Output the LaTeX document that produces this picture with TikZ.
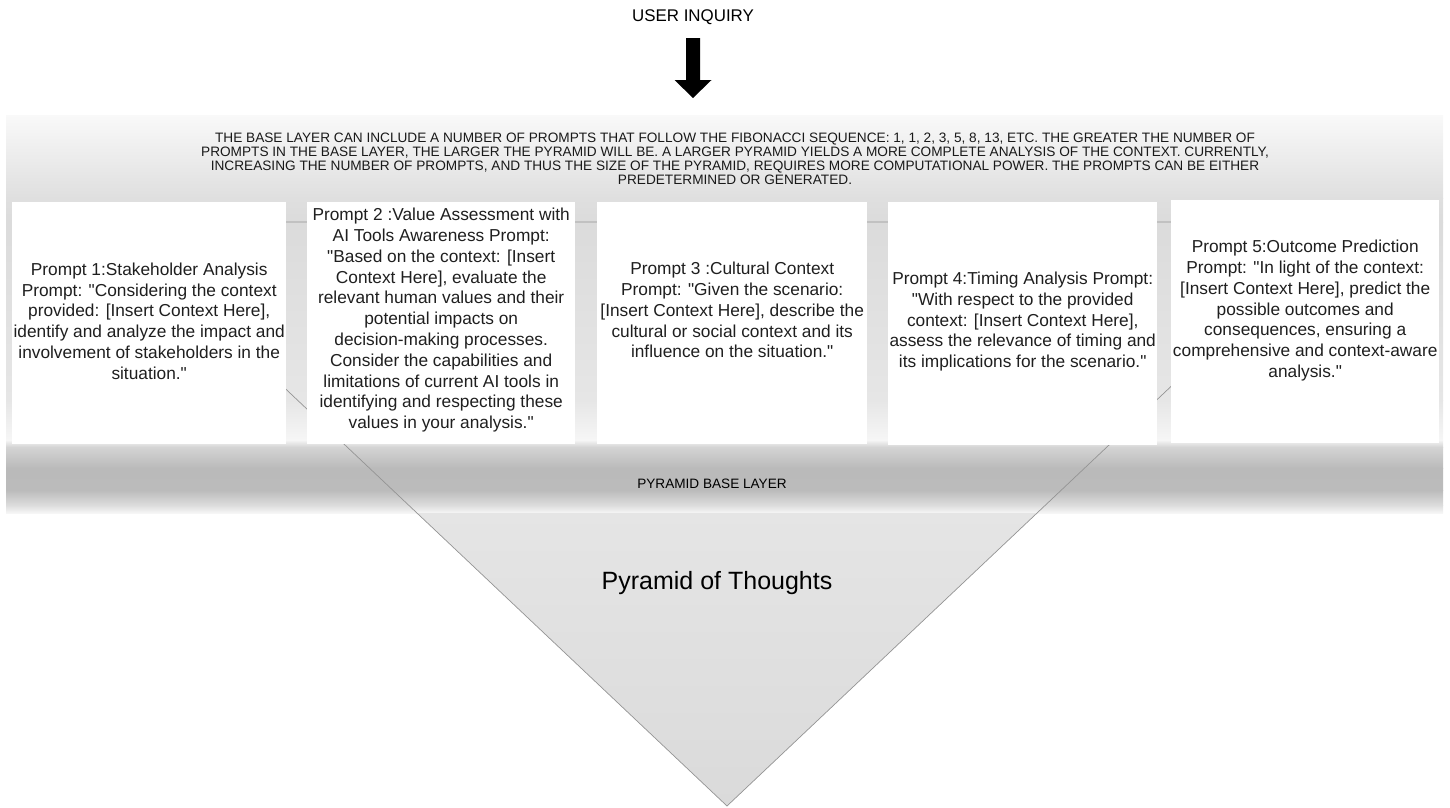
\documentclass[tikz,border=0pt]{standalone}
\usepackage{fontspec}
\setmainfont{Liberation Sans}[Ligatures=TeXOff]
\usetikzlibrary{calc}
\begin{document}
\begin{tikzpicture}[x=1pt,y=-1pt,
  pbox/.style={fill=white, draw=none, inner sep=0pt, anchor=north west},
  ptext/.style={align=center, font=\fontsize{17.3}{20.8}\selectfont, text=black!88, inner sep=0pt},
  capsnote/.style={align=center, font=\fontsize{13.65}{14}\selectfont, text=black!90, inner sep=0pt},
  edgeline/.style={draw=black!42, line width=0.7pt},
  blockarrow/.style={fill=black}]
\useasboundingbox (0,0) rectangle (1450,807);

% ---- background band (piecewise vertical gradient) ----
\shade[top color=black!2.4, bottom color=black!12.5] (6,115) rectangle (1443,198);
\shade[top color=black!12.5, bottom color=black!14.1] (6,198) rectangle (1443,222);
\shade[top color=black!14.1, bottom color=black!9.8] (6,222) rectangle (1443,400);
\shade[top color=black!9.8, bottom color=black!3.5] (6,400) rectangle (1443,440);
\shade[top color=black!3.5, bottom color=black!16.9] (6,440) rectangle (1443,447);
\shade[top color=black!16.9, bottom color=black!27] (6,447) rectangle (1443,468);
\shade[top color=black!27, bottom color=black!26.7] (6,468) rectangle (1443,490);
\shade[top color=black!26.7, bottom color=black!13.7] (6,490) rectangle (1443,505);
\shade[top color=black!13.7, bottom color=black!3.5] (6,505) rectangle (1443,513);

% ---- pyramid ----
\coordinate (tl) at (109,222);
\coordinate (tr) at (1345,222);
\coordinate (apex) at (727,806);
\begin{scope}
  \clip (0,513) rectangle (1450,807);
  \shade[top color=black!6, bottom color=black!14.5] (tl) -- (tr) -- (apex) -- cycle;
\end{scope}
\draw[edgeline] (tl) -- (tr) -- (apex) -- cycle;

% ---- prompt boxes ----
\node[pbox, minimum width=274pt, minimum height=242pt] (b1) at (12,202) {};
\node[pbox, minimum width=268pt, minimum height=242pt] (b2) at (307,202) {};
\node[pbox, minimum width=270pt, minimum height=242pt] (b3) at (597,202) {};
\node[pbox, minimum width=269pt, minimum height=243pt] (b4) at (888,202) {};
\node[pbox, minimum width=268pt, minimum height=243pt] (b5) at (1171,200) {};

\node[ptext] (t1) at ($(b1.center)+(0,-2)$) {Prompt 1:Stakeholder Analysis\\Prompt: "Considering the context\\provided: {[}Insert Context Here],\\identify and analyze the impact and\\involvement of stakeholders in the\\situation."};
\node[ptext] (t2) at ($(b2.center)+(0,-3)$) {Prompt 2 :Value Assessment with\\AI Tools Awareness Prompt:\\"Based on the context: {[}Insert\\Context Here], evaluate the\\relevant human values and their\\potential impacts on\\decision-making processes.\\Consider the capabilities and\\limitations of current AI tools in\\identifying and respecting these\\values in your analysis."};
\node[ptext] (t3) at ($(b3.center)+(0,-13)$) {Prompt 3 :Cultural Context\\Prompt: "Given the scenario:\\{[}Insert Context Here], describe the\\cultural or social context and its\\influence on the situation."};
\node[ptext] (t4) at ($(b4.center)+(0,-2)$) {Prompt 4:Timing Analysis Prompt:\\"With respect to the provided\\context: {[}Insert Context Here],\\assess the relevance of timing and\\its implications for the scenario."};
\node[ptext] (t5) at ($(b5.center)+(0,-11)$) {Prompt 5:Outcome Prediction\\Prompt: "In light of the context:\\{[}Insert Context Here], predict the\\possible outcomes and\\consequences, ensuring a\\comprehensive and context-aware\\analysis."};

% ---- texts ----
\node[font=\fontsize{16.9}{20}\selectfont, inner sep=0pt] (inq) at (693,17) {USER INQUIRY};
\node[capsnote] (note) at (735,159) {THE BASE LAYER CAN INCLUDE A NUMBER OF PROMPTS THAT FOLLOW THE FIBONACCI SEQUENCE: 1, 1, 2, 3, 5, 8, 13, ETC. THE GREATER THE NUMBER OF\\PROMPTS IN THE BASE LAYER, THE LARGER THE PYRAMID WILL BE. A LARGER PYRAMID YIELDS A MORE COMPLETE ANALYSIS OF THE CONTEXT. CURRENTLY,\\INCREASING THE NUMBER OF PROMPTS, AND THUS THE SIZE OF THE PYRAMID, REQUIRES MORE COMPUTATIONAL POWER. THE PROMPTS CAN BE EITHER\\PREDETERMINED OR GENERATED.};
\node[font=\fontsize{13.6}{16}\selectfont, inner sep=0pt] (base) at (712,484) {PYRAMID BASE LAYER};
\node[font=\fontsize{25}{30}\selectfont, inner sep=0pt] (pot) at (717,583) {Pyramid of Thoughts};

% ---- block arrow from inquiry to the band ----
\coordinate (as) at (693,38);
\fill[blockarrow] ($(as)+(-7,0)$) -- ($(as)+(7,0)$) -- ($(as)+(7,42)$) -- ($(as)+(18.5,42)$)
  -- ($(as)+(0,60)$) -- ($(as)+(-18.5,42)$) -- ($(as)+(-7,42)$) -- cycle;
\end{tikzpicture}
\end{document}
